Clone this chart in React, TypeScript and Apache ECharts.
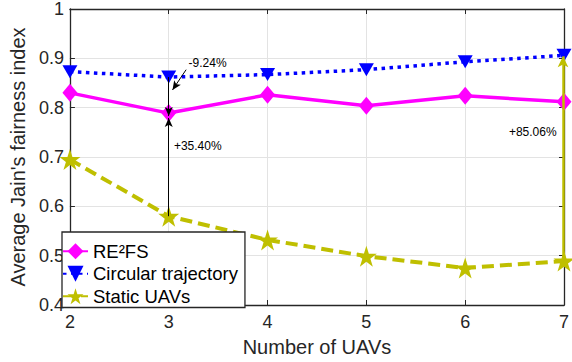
import React, { useEffect, useRef } from "react";
import * as echarts from "echarts";

const uavCounts = [2, 3, 4, 5, 6, 7];
const re2fs = [0.830, 0.789, 0.826, 0.804, 0.824, 0.812];
const circular = [0.873, 0.862, 0.867, 0.877, 0.893, 0.906];
const staticUavs = [0.695, 0.580, 0.532, 0.499, 0.475, 0.489];
const yTicks = [0.4, 0.5, 0.6, 0.7, 0.8, 0.9, 1];

const seriesNames = ["RE²FS", "Circular trajectory", "Static UAVs"];

// annotation anchors (data space)
const notes = [
  { text: "-9.24%", coord: [3.393, 0.891] },
  { text: "+35.40%", coord: [3.294, 0.723] },
  { text: "+85.06%", coord: [6.684, 0.751] },
];
const diagArrow = [[3.176, 0.877], [3.038, 0.836]];
const arrowMeet = 0.781;

const STAR =
  "path://M0,-10L2.245,-3.09L9.511,-3.09L3.633,1.18L5.878,8.09L0,3.82L-5.878,8.09L-3.633,1.18L-9.511,-3.09L-2.245,-3.09Z";

const FONT = "Liberation Sans";
const AX = "#262626";

export default function App() {
  const ref = useRef<HTMLDivElement>(null);
  useEffect(() => {
    document.body.style.margin = "0";
    const chart = echarts.init(ref.current!, null, { renderer: "svg" });
    const pairs = (ys: number[]) => uavCounts.map((x, i) => [x, ys[i]]);
    const axisCommon = {
      type: "value" as const,
      axisLine: { show: true, lineStyle: { color: AX, width: 1.3 } },
      axisTick: { show: true, inside: true, length: 5, lineStyle: { color: AX, width: 1 } },
    };
    const xCommon = { ...axisCommon, min: 2, max: 7, interval: 1 };
    const yCommon = { ...axisCommon, min: 0.4, max: 1, interval: 0.1 };
    chart.setOption({
      animation: false,
      backgroundColor: "#ffffff",
      textStyle: { fontFamily: FONT },
      grid: { left: 63, right: 3, top: 9, bottom: 56, containLabel: false },
      xAxis: [
        {
          ...xCommon,
          position: "bottom",
          name: "Number of UAVs",
          nameLocation: "middle",
          nameGap: 32,
          nameTextStyle: { fontSize: 20, color: AX, fontFamily: FONT },
          axisLabel: { fontSize: 18, color: AX, margin: 8, fontFamily: FONT },
          splitLine: { show: true, lineStyle: { color: "#e3e3e3", width: 1 } },
        },
        {
          ...xCommon,
          position: "top",
          axisLabel: { show: false },
          splitLine: { show: false },
        },
      ],
      yAxis: [
        {
          ...yCommon,
          position: "left",
          name: "Average Jain's fairness index",
          nameLocation: "middle",
          nameGap: 32,
          nameTextStyle: { fontSize: 20, color: AX, fontFamily: FONT },
          axisLabel: {
            fontSize: 18,
            color: AX,
            margin: 6,
            fontFamily: FONT,
            formatter: (v: number) => {
              const t = yTicks.find((k) => Math.abs(k - v) < 1e-6);
              return t === 1 ? "1" : (t ?? v).toFixed(1);
            },
          },
          splitLine: { show: true, lineStyle: { color: "#e3e3e3", width: 1 } },
        },
        {
          ...yCommon,
          position: "right",
          axisLabel: { show: false },
          splitLine: { show: false },
        },
      ],
      legend: {
        data: seriesNames,
        orient: "vertical",
        left: 62,
        top: 232,
        padding: [8, 7, 0, 0],
        itemGap: 0,
        itemWidth: 25,
        itemHeight: 20,
        borderColor: AX,
        borderWidth: 1.3,
        backgroundColor: "#ffffff",
        textStyle: { fontSize: 18.5, color: "#000", fontFamily: FONT, lineHeight: 22.5 },
        z: 10,
      },
      series: [
        {
          name: seriesNames[0],
          type: "line",
          data: pairs(re2fs),
          symbol: "diamond",
          symbolSize: [15, 18],
          color: "#ff00ff",
          lineStyle: { width: 3.5, color: "#ff00ff", type: "solid" },
          itemStyle: { color: "#ff00ff" },
          z: 4,
        },
        {
          name: seriesNames[1],
          type: "line",
          data: pairs(circular),
          symbol: "triangle",
          symbolRotate: 180,
          symbolSize: [15, 13],
          color: "#0000ff",
          lineStyle: { width: 3.5, color: "#0000ff", type: [3.5, 4.5] },
          itemStyle: { color: "#0000ff" },
          z: 4,
        },
        {
          name: seriesNames[2],
          type: "line",
          data: pairs(staticUavs),
          symbol: STAR,
          symbolSize: 21,
          color: "#bfbf00",
          lineStyle: { width: 4, color: "#bfbf00", type: [12, 6] },
          itemStyle: { color: "#bfbf00" },
          z: 3,
        },
        {
          name: "annotations",
          type: "line",
          data: [],
          silent: true,
          z: 5,
          markLine: {
            silent: true,
            animation: false,
            label: { show: false },
            symbol: ["none", "arrow"],
            symbolSize: [6, 9],
            lineStyle: { color: "#000", width: 1, type: "solid" },
            data: [
              [{ coord: [3, circular[1]] }, { coord: [3, arrowMeet + 0.002] }],
              [{ coord: [3, staticUavs[1]] }, { coord: [3, arrowMeet - 0.002] }],
              [{ coord: diagArrow[0] }, { coord: diagArrow[1] }],
              [
                {
                  coord: [6.99, staticUavs[5]],
                  lineStyle: { color: "#bfbf00", width: 2.5 },
                  symbolSize: [8, 11],
                },
                {
                  coord: [6.99, circular[5] - 0.002],
                  lineStyle: { color: "#bfbf00", width: 2.5 },
                  symbolSize: [8, 11],
                },
              ],
            ],
          },
          markPoint: {
            silent: true,
            symbol: "circle",
            symbolSize: 0,
            label: {
              show: true,
              position: "inside",
              color: "#000",
              fontSize: 12,
              fontFamily: FONT,
              formatter: (p: any) => p.name,
            },
            data: notes.map((n) => ({ name: n.text, coord: n.coord })),
          },
        },
      ],
    });
    return () => chart.dispose();
  }, []);
  return <div ref={ref} style={{ width: 572, height: 362 }} />;
}
